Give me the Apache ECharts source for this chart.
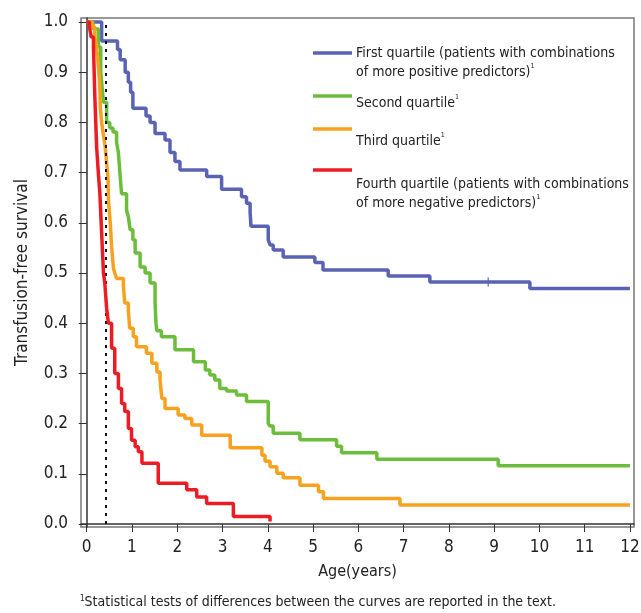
<!DOCTYPE html>
<html>
<head>
<meta charset="utf-8">
<script src="https://cdn.jsdelivr.net/npm/echarts@6/dist/echarts.min.js"></script>
<style>
body{margin:0;background:#fff;}
#main{width:641px;height:613px;}
</style>
</head>
<body>
<div id="main"></div>
<script>
// 数据
var q1Time=[0,0.33,0.68,0.74,0.85,0.92,0.97,1.02,1.31,1.40,1.51,1.73,1.84,1.95,2.06,2.65,2.98,3.42,3.53,3.61,3.63,4.01,4.05,4.12,4.34,5.04,5.22,6.66,7.58,9.79,12];
var q1Surv=[1.0,0.962,0.945,0.925,0.90,0.88,0.86,0.828,0.813,0.80,0.778,0.765,0.74,0.722,0.705,0.692,0.667,0.652,0.639,0.62,0.593,0.566,0.556,0.546,0.532,0.521,0.506,0.494,0.482,0.469,0.469];
var q1Censor=[[8.87,0.482]];

var q2Time=[0,0.14,0.26,0.31,0.33,0.37,0.44,0.51,0.58,0.66,0.70,0.74,0.77,0.88,0.92,0.96,1.02,1.07,1.18,1.29,1.40,1.51,1.53,1.55,1.65,1.95,2.36,2.62,2.72,2.83,2.94,3.09,3.31,3.53,4.01,4.05,4.12,4.71,5.52,5.63,6.41,9.09,12];
var q2Surv=[1.0,0.986,0.95,0.90,0.88,0.84,0.80,0.789,0.781,0.76,0.74,0.692,0.658,0.625,0.612,0.586,0.566,0.54,0.512,0.50,0.48,0.44,0.40,0.385,0.373,0.347,0.323,0.307,0.297,0.287,0.270,0.265,0.257,0.244,0.20,0.195,0.181,0.168,0.155,0.142,0.129,0.116,0.116];

var q3Time=[0,0.12,0.18,0.22,0.26,0.29,0.30,0.33,0.37,0.41,0.44,0.47,0.48,0.52,0.55,0.59,0.62,0.66,0.81,0.84,0.92,0.95,1.03,1.10,1.32,1.44,1.55,1.62,1.66,1.73,2.02,2.17,2.32,2.54,3.17,3.87,3.94,4.05,4.20,4.34,4.71,5.12,5.23,6.92,12];
var q3Surv=[1.0,0.99,0.97,0.95,0.91,0.87,0.83,0.80,0.775,0.75,0.72,0.69,0.645,0.60,0.553,0.51,0.50,0.489,0.475,0.44,0.425,0.39,0.373,0.353,0.34,0.32,0.303,0.287,0.25,0.23,0.217,0.21,0.197,0.177,0.152,0.137,0.125,0.114,0.101,0.092,0.077,0.064,0.051,0.038,0.038];

var q4Time=[0,0.06,0.10,0.15,0.18,0.22,0.26,0.29,0.33,0.37,0.40,0.44,0.48,0.55,0.62,0.70,0.77,0.84,0.92,0.99,1.07,1.14,1.22,1.58,2.21,2.43,2.65,3.24,4.05];
var q4Surv=[1.0,0.99,0.97,0.95,0.85,0.75,0.695,0.66,0.58,0.50,0.48,0.43,0.40,0.35,0.30,0.27,0.24,0.224,0.19,0.167,0.154,0.144,0.121,0.081,0.068,0.054,0.041,0.015,0.005];

var seriesNames=['First quartile','Second quartile','Third quartile','Fourth quartile'];
var seriesColors=['#5a63b3','#6cbd3b','#f7a11f','#ec1c24'];
var legendLines=[
	['First quartile (patients with combinations','of more positive predictors){s|1}'],
	['Second quartile{s|1}'],
	['Third quartile{s|1}'],
	['Fourth quartile (patients with combinations','of more negative predictors){s|1}']
];
var xTicks=[0,1,2,3,4,5,6,7,8,9,10,11,12];
var yTicks=[0,0.1,0.2,0.3,0.4,0.5,0.6,0.7,0.8,0.9,1.0];
var medianLine=0.5;
var landmarkAge=0.42;
var footnote='{s|1}Statistical tests of differences between the curves are reported in the text.';

var FONT='"Liberation Sans Narrow","DejaVu Sans Condensed",sans-serif';

function pairs(t,s){
	var out=[];
	for(var i=0;i<t.length;i++){
		out.push([t[i],s[i]]);
	}
	return out;
}

var times=[q1Time,q2Time,q3Time,q4Time];
var survs=[q1Surv,q2Surv,q3Surv,q4Surv];
var series=[];
for(var i=0;i<4;i++){
	series.push({
		name:seriesNames[i],
		type:'line',
		step:'end',
		showSymbol:false,
		silent:true,
		data:pairs(times[i],survs[i]),
		lineStyle:{color:seriesColors[i],width:3.5},
		z:2+i
	});
}
// 参考虚线
series[0].markLine={
	silent:true,
	symbol:'none',
	label:{show:false},
	data:[
		[{coord:[-0.13,medianLine],lineStyle:{color:'#111',width:1.5,type:[5,6]}},{coord:[12.09,medianLine]}],
		[{coord:[landmarkAge,0],lineStyle:{color:'#111',width:2,type:[3,5]}},{coord:[landmarkAge,1.0]}]
	]
};
series.push({
	type:'scatter',
	data:q1Censor,
	symbol:'rect',
	symbolSize:[1.5,9],
	itemStyle:{color:seriesColors[0]},
	silent:true,
	z:6
});

// 图例 (手动画)
var graphic=[];
var legY=[53,96,129,170];
var textY=[53,103,141,184];
for(var i=0;i<4;i++){
	graphic.push({
		type:'line',
		shape:{x1:313,y1:legY[i],x2:352,y2:legY[i]},
		style:{stroke:seriesColors[i],lineWidth:3.5}
	});
	graphic.push({
		type:'text',
		left:356,
		top:textY[i]-9,
		style:{
			text:legendLines[i].join('\n'),
			font:'14px '+FONT,
			fill:'#222',
			lineHeight:19,
			rich:{s:{fontSize:7,verticalAlign:'top',fontFamily:FONT,fill:'#222'}}
		}
	});
}
graphic.push({
	type:'text',
	left:80,
	top:595,
	style:{
		text:footnote,
		font:'14px '+FONT,
		fill:'#222',
		rich:{s:{fontSize:8,verticalAlign:'top',fontFamily:FONT,fill:'#222'}}
	}
});

var myChart=echarts.init(document.getElementById('main'));
myChart.setOption({
	animation:false,
	backgroundColor:'#fff',
	grid:{left:81,right:7,top:18,bottom:86,show:true,borderColor:'#777',borderWidth:1.5,outerBoundsMode:'none'},
	xAxis:{
		type:'value',
		min:-0.126,
		max:12.09,
		name:'Age(years)',
		nameLocation:'middle',
		nameGap:37,
		nameTextStyle:{fontFamily:FONT,fontSize:16,color:'#222'},
		axisLine:{show:true,lineStyle:{color:'#333',width:1.5}},
		axisTick:{show:true,length:8,customValues:xTicks,lineStyle:{color:'#333'}},
		axisLabel:{customValues:xTicks,fontFamily:FONT,fontSize:17,color:'#222',margin:12},
		splitLine:{show:false}
	},
	yAxis:{
		type:'value',
		min:-0.006,
		max:1.008,
		name:'Transfusion-free survival',
		nameLocation:'middle',
		nameGap:50,
		nameTextStyle:{fontFamily:FONT,fontSize:17,color:'#222'},
		axisLine:{show:true,lineStyle:{color:'#333',width:1.5}},
		axisTick:{show:true,length:8,customValues:yTicks,lineStyle:{color:'#333'}},
		axisLabel:{customValues:yTicks,fontFamily:FONT,fontSize:17,color:'#222',margin:13,
			formatter:function(v){return v.toFixed(1);}},
		splitLine:{show:false}
	},
	series:series,
	graphic:graphic
});
</script>
</body>
</html>
